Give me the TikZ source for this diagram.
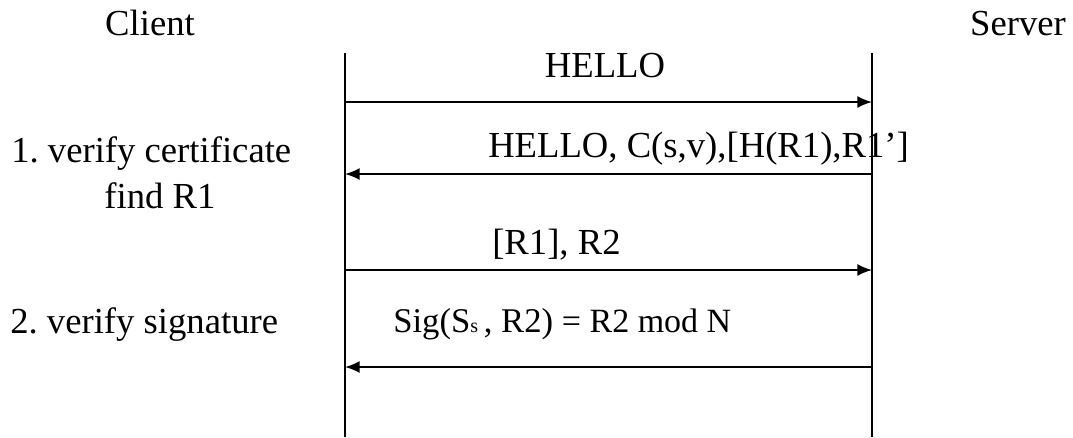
\documentclass[tikz,border=0pt]{standalone}
\usepackage{fontspec}
\setmainfont{Liberation Serif}
\usetikzlibrary{arrows.meta,positioning}
\frenchspacing

\tikzset{
  lbl/.style={inner sep=0pt, anchor=base west, font=\fontsize{27.5}{33}\selectfont},
  lifeline/.style={line width=1.3pt},
  msg/.style={line width=1.3pt, -{Latex[length=11pt,width=9pt]}}
}

\begin{document}
\begin{tikzpicture}[x=0.75pt, y=-0.75pt]
 \useasboundingbox (0,0) rectangle (1073,437);
 % lifelines
 \coordinate (ctop) at (345,53);
 \coordinate (cbot) at (345,437);
 \coordinate (stop) at (872,53);
 \coordinate (sbot) at (872,437);
 \draw [lifeline] (ctop) -- (cbot);
 \draw [lifeline] (stop) -- (sbot);
 % parties
 \node [lbl, anchor=base] (client) at (150,35) {Client};
 \node [lbl, anchor=base] (server) at (1018,35) {Server};
 % message ends
 \coordinate (c1) at (345,102);
 \coordinate (s1) at (872,102);
 \coordinate (c2) at (345,174);
 \coordinate (s2) at (872,174);
 \coordinate (c3) at (345,270);
 \coordinate (s3) at (872,270);
 \coordinate (c4) at (345,367);
 \coordinate (s4) at (872,367);
 \draw [msg] (c1) -- (s1);
 \draw [msg] (s2) -- (c2);
 \draw [msg] (c3) -- (s3);
 \draw [msg] (s4) -- (c4);
 % message labels
 \node [lbl, anchor=base] (hello) at (605,77) {HELLO};
 \node [lbl] (cert) at (488,157) {HELLO, C(s,v),[H(R1),R1’]};
 \node [lbl] (rr) at (492,254) {[R1], R2};
 \node [lbl, font=\fontsize{26}{30}\selectfont] (sig) at (393,332)
   {Sig(S{\fontsize{15}{17}\selectfont s}\,, R2) {\fontsize{25.5}{30}\selectfont = R2 mod N}};
 % steps at the client
 \node [lbl] (step1) at (11,162) {1. verify certificate};
 \node [lbl, anchor=base] (find) at (160,208) {find R1};
 \node [lbl] (step2) at (10,333) {2. verify signature};
\end{tikzpicture}
\end{document}
